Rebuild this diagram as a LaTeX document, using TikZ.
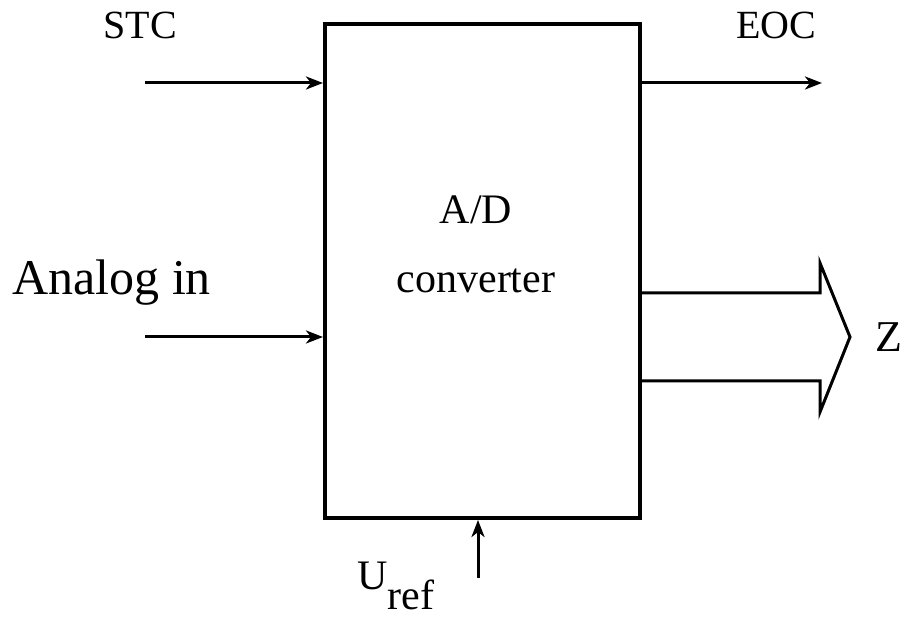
\documentclass[tikz,border=0pt]{standalone}
\usepackage{fontspec}
\setmainfont{Liberation Serif}
\usepackage{tikz}
\usetikzlibrary{arrows.meta, positioning, calc}

\begin{document}
\begin{tikzpicture}[
    x=0.5pt, y=-0.5pt,
    conv/.style={rectangle, draw, line width=2pt, minimum width=157.5pt, minimum height=247pt, inner sep=0pt},
    lbl/.style={anchor=base, inner sep=0pt, font=\fontsize{20}{24}\selectfont},
    line/.style={draw, line width=1.5pt, -{Stealth[length=8.5pt, width=6.5pt, inset=2.5pt]}},
    bus/.style={draw, line width=1.5pt, line join=miter}
]
\useasboundingbox (0,0) rectangle (912,619);

% A/D block
\node [conv] (adc) at (482.5,271) {};
\node [lbl, align=center, font=\fontsize{21}{34.5}\selectfont] (title) at (476,293) {A/D\\converter};

% inputs
\coordinate (stcin) at (145,83);
\coordinate (anin) at (145,337);
\coordinate (urefin) at (478,578);
\node [lbl] (stc) at (140,39) {STC};
\node [lbl, anchor=base west, font=\fontsize{25}{30}\selectfont] (analog) at (12,295) {Analog in};
\node [lbl, anchor=base west, font=\fontsize{21}{25}\selectfont] (uref) at (357,590) {U\raisebox{-10pt}{ref}};

% outputs
\coordinate (eocout) at (822,83);
\node [lbl] (eoc) at (776.5,39) {EOC};
\node [lbl, anchor=base west, font=\fontsize{22}{26}\selectfont] (z) at (875,352) {Z};

% Connections
\draw [line] (stcin) -- (adc.west |- stcin);
\draw [line] (anin) -- (adc.west |- anin);
\draw [line] (urefin) -- (adc.south -| urefin);
\draw [line] (adc.east |- eocout) -- (eocout);

% bus arrow Z
\draw [bus] (adc.east |- 0,293) -- (820,293) -- (820,263) -- (850,337)
    -- (820,412) -- (820,381) -- (adc.east |- 0,381);

\end{tikzpicture}
\end{document}
